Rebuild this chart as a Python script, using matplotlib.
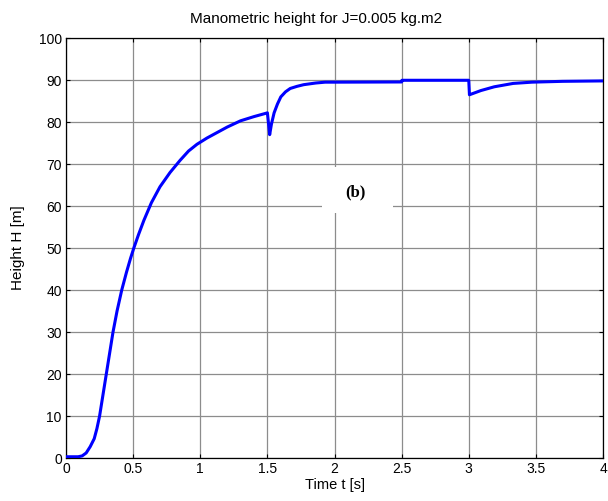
import matplotlib
matplotlib.use('Agg')
import matplotlib.pyplot as plt
from matplotlib.patches import Rectangle

plt.rcParams['font.family'] = ['Liberation Sans', 'DejaVu Sans']

# response of the manometric height (time in s, height in m)
time_s = [0, 0.09, 0.12, 0.15, 0.18, 0.21, 0.23, 0.25, 0.275, 0.30, 0.325,
          0.35, 0.38, 0.415, 0.45, 0.48, 0.505, 0.54, 0.58, 0.636, 0.7,
          0.775, 0.85, 0.9125, 0.975, 1.05, 1.125, 1.2, 1.3, 1.4, 1.49,
          1.5, 1.517, 1.53, 1.55, 1.575, 1.6, 1.635, 1.67, 1.72, 1.77,
          1.86, 1.93, 2.0, 2.5, 2.502, 3.0, 3.005, 3.09, 3.19, 3.33, 3.47,
          3.7, 4.0]
height_m = [0.3, 0.3, 0.5, 1.2, 2.7, 4.6, 7.0, 10.0, 15.0, 20.0, 25.0,
            30.0, 35.0, 40.0, 44.2, 47.5, 50.0, 53.2, 56.6, 60.8, 64.6,
            68.0, 70.9, 73.1, 74.7, 76.2, 77.5, 78.8, 80.3, 81.3, 82.1,
            82.2, 77.0, 79.5, 82.2, 84.3, 86.0, 87.2, 88.0, 88.5, 88.9,
            89.3, 89.5, 89.5, 89.55, 89.95, 89.95, 86.5, 87.5, 88.4, 89.2,
            89.5, 89.7, 89.8]

x_ticks = [0, 0.5, 1, 1.5, 2, 2.5, 3, 3.5, 4]
x_labels = ['0', '0.5', '1', '1.5', '2', '2.5', '3', '3.5', '4']
y_ticks = list(range(0, 101, 10))

fig = plt.figure(figsize=(6.08, 5.01), dpi=100)
ax = fig.add_axes([0.1086, 0.0858, 0.8832, 0.8382])

ax.plot(time_s, height_m, color='#0000ff', linewidth=2.2, zorder=3)

ax.set_xlim(0, 4)
ax.set_ylim(0, 100)
ax.set_xticks(x_ticks)
ax.set_xticklabels(x_labels)
ax.set_yticks(y_ticks)
ax.grid(True, color='#8c8c8c', linewidth=0.9)
ax.set_axisbelow(True)
ax.tick_params(direction='in', length=3, top=True, right=True,
               labelsize=10, pad=3, width=0.8)
for s in ax.spines.values():
    s.set_linewidth(0.9)

fig.text(0.52, 0.962, 'Manometric height for J=0.005 kg.m2', fontsize=11,
         ha='center', va='center')
ax.set_xlabel('Time t [s]', fontsize=10.5, labelpad=1)
ax.set_ylabel('Height H [m]', fontsize=11, labelpad=10)

# white patch behind the panel tag
ax.add_patch(Rectangle((1.905, 58.3), 0.533, 11.0, facecolor='white',
                       edgecolor='none', zorder=1))
ax.text(2.153, 63.3, '(b)', family='Liberation Serif', fontweight='bold',
        fontsize=12, ha='center', va='center', zorder=2)

fig.savefig('out.png', dpi=100)
